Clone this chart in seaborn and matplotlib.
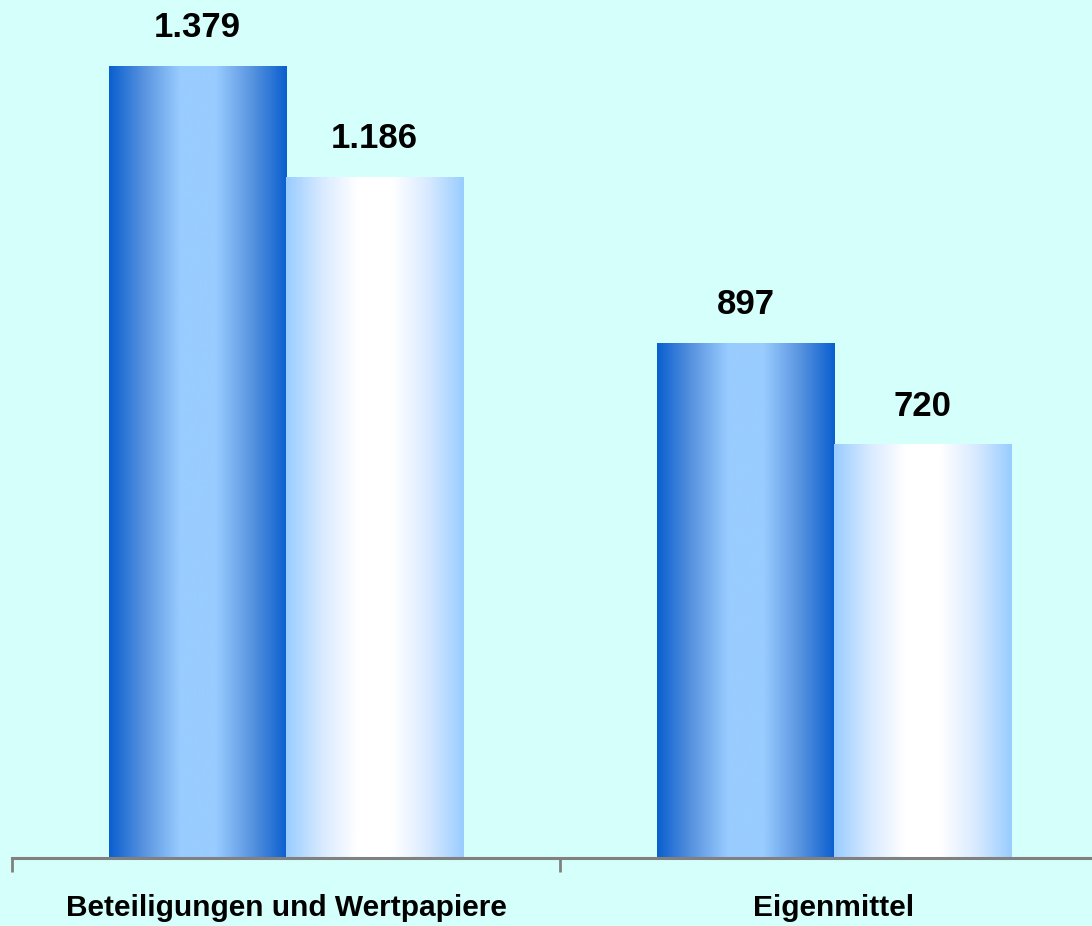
import numpy as np
import pandas as pd
import matplotlib
matplotlib.use("Agg")
import matplotlib.pyplot as plt
from matplotlib.colors import LinearSegmentedColormap
import seaborn as sns

# data
categories = ["Beteiligungen und Wertpapiere", "Eigenmittel"]
series = ["A", "B"]
values_a = [1379, 897]
values_b = [1186, 720]

df = pd.DataFrame({
    "Kategorie": categories * 2,
    "Reihe": [series[0]] * 2 + [series[1]] * 2,
    "Wert": values_a + values_b,
})

sns.set_theme(style="white")
plt.rcParams["font.family"] = ["Liberation Sans", "DejaVu Sans"]

bg = "#D5FFFA"
fig = plt.figure(figsize=(10.92, 9.26), dpi=100, facecolor=bg)
ax = fig.add_axes([12 / 1092, 68 / 926, 1096 / 1092, 858 / 926])
ax.set_facecolor(bg)

sns.barplot(data=df, x="Kategorie", y="Wert", hue="Reihe", order=categories,
            hue_order=series, width=0.646, gap=0, ax=ax, legend=False,
            palette=["#1060D0", "#99CCFF"])

# horizontal gradients for the bars
cmap_dark = LinearSegmentedColormap.from_list(
    "dark", ["#0A5FCF", "#5A95E0", "#99CCFF", "#99CCFF", "#5A95E0", "#0A5FCF"])
cmap_light = LinearSegmentedColormap.from_list(
    "light", ["#99CCFF", "#D8EAFF", "#FFFFFF", "#FFFFFF", "#D8EAFF", "#99CCFF"])
grad = np.linspace(0, 1, 256).reshape(1, -1)
for i, p in enumerate(ax.patches):
    x0, y0 = p.get_x(), p.get_y()
    w, h = p.get_width(), p.get_height()
    cm = cmap_dark if i < len(categories) else cmap_light
    p.set_alpha(0)
    ax.imshow(grad, cmap=cm, aspect="auto", extent=(x0, x0 + w, y0, y0 + h),
              zorder=2, interpolation="bicubic")
    lab = f"{int(h):,}".replace(",", ".")
    ax.annotate(lab, (x0 + w / 2, y0 + h), xytext=(0, 16), textcoords="offset points",
                ha="center", va="bottom", fontsize=25, fontweight="bold", color="black")

ax.set_xlim(-0.5, 1.5)
ax.set_ylim(0, 1495)

for s in ["top", "right", "left"]:
    ax.spines[s].set_visible(False)
ax.spines["bottom"].set_color("#808080")
ax.spines["bottom"].set_linewidth(2.2)
ax.set_yticks([])
ax.set_xticks([-0.5, 0.5, 1.5])
ax.set_xticklabels([])
ax.set_xticks([0, 1], minor=True)
ax.set_xticklabels(categories, minor=True, fontsize=21.5, fontweight="bold", color="black")
ax.tick_params(axis="x", which="major", direction="out", length=10, width=2,
               color="#808080", bottom=True)
ax.tick_params(axis="x", which="minor", length=0, pad=26)
ax.set_xlabel("")
ax.set_ylabel("")

fig.savefig("out.png", dpi=100, facecolor=bg)
